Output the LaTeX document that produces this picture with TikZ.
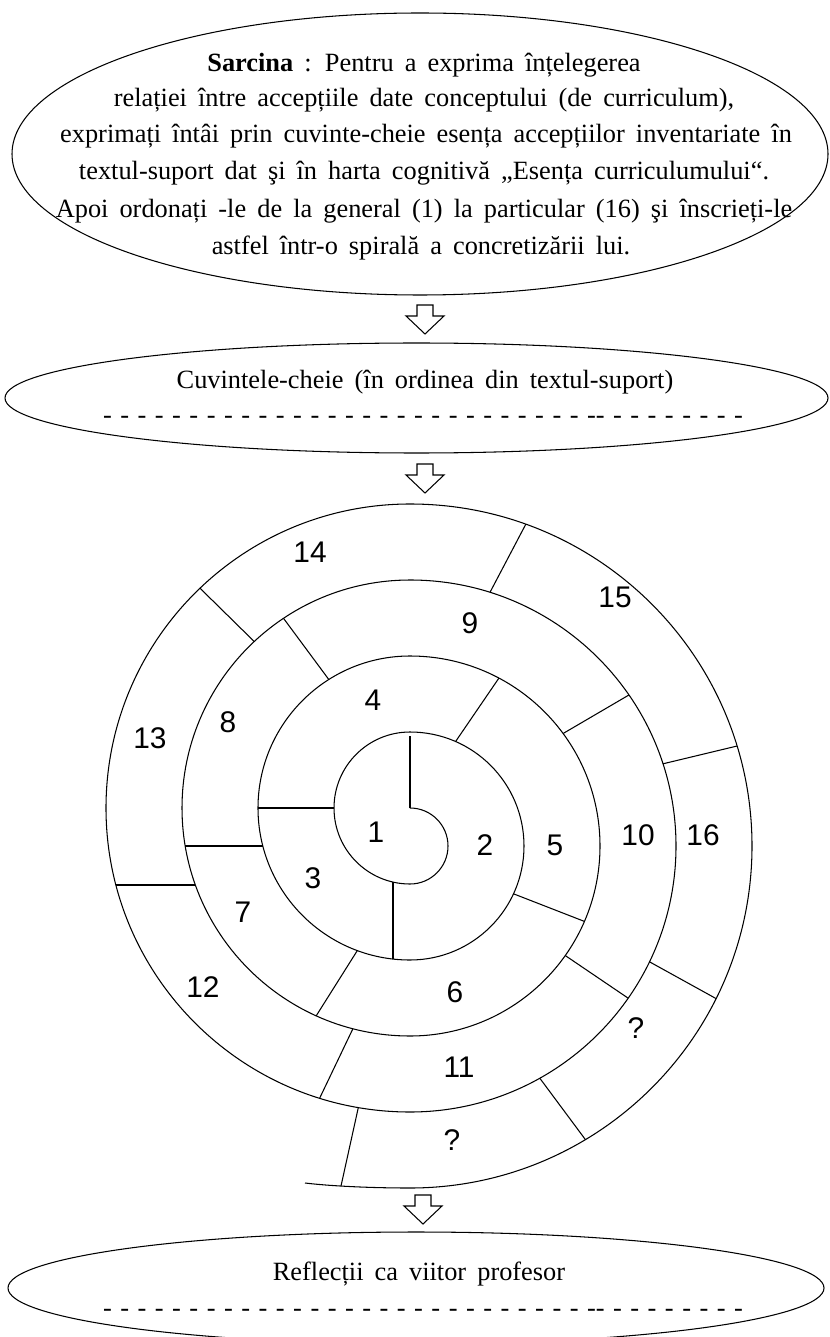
\documentclass[tikz,border=0pt]{standalone}
\usepackage{fontspec}
\setmainfont{Liberation Serif}
\newfontfamily\numfont{Liberation Sans}
\newcommand{\txtfont}{\fontsize{15}{21}\selectfont\spaceskip 0.42em plus 1fil\relax}
\tikzset{
  outline/.style = {line width=0.6pt},
  divider/.style = {line width=0.6pt},
  txt/.style = {anchor=base, inner sep=0pt, font=\txtfont},
  num/.style = {inner sep=0pt, font=\numfont\fontsize{17}{20}\selectfont},
  downarrow/.pic = {
    \draw[line width=0.6pt] (-8,0) -- (8,0) -- (8,11) -- (19,11) -- (0,29) -- (-19,11) -- (-8,11) -- cycle;
  },
}
\newcommand{\dashrow}{{\spaceskip 0pt plus 1fil\relax\makebox[12.8cm][s]{- - - - - - - - - - - - - - - - - - - - - - - - - - - - -{}- - - - - - - - -}}}

\begin{document}
\begin{tikzpicture}[x=0.02cm,y=-0.02cm]
	\useasboundingbox (0,0) rectangle (829,1337);
	
	\draw[outline] (420,154) ellipse [x radius=408, y radius=141];
	\node[txt] (t1) at (424,72) {\textbf{Sarcina} : Pentru a exprima înțelegerea};
	\node[txt] (t2) at (424,107) {relației între accepțiile date conceptului (de curriculum),};
	\node[txt] (t3) at (426,143) {exprimați întâi prin cuvinte-cheie esența accepțiilor inventariate în};
	\node[txt] (t4) at (424,180) {textul-suport dat şi în harta cognitivă „Esența curriculumului“.};
	\node[txt] (t5) at (424,218) {Apoi ordonați -le de la general (1) la particular (16) şi înscrieți-le};
	\node[txt] (t6) at (421,255) {astfel într-o spirală a concretizării lui.};
	
	\coordinate (a1) at (425,305);
	\pic at (a1) {downarrow};
	
	\draw[outline] (416.5,398) ellipse [x radius=411.5, y radius=55];
	\node[txt] (k1) at (425,389) {Cuvintele-cheie (în ordinea din textul-suport)};
	\node[txt] (k2) at (423,424) {\dashrow};
	
	\coordinate (a2) at (425,464);
	\pic at (a2) {downarrow};
	
	\draw[outline] (410,808)
		arc[start angle=-90, end angle=90, radius=38]
		arc[start angle=90, end angle=270, radius=76]
		arc[start angle=-90, end angle=90, radius=114]
		arc[start angle=90, end angle=270, radius=152]
		arc[start angle=-90, end angle=90, radius=190]
		arc[start angle=90, end angle=270, radius=228]
		arc[start angle=-90, end angle=90, radius=266]
		arc[start angle=90, end angle=270, radius=304]
		arc[start angle=-90, end angle=90, radius=342]
		.. controls (370,1188) and (330,1186) .. (305,1183);
	
	\draw[divider] (410,736) -- (410,808);
	\draw[divider] (455.6,741.5) -- (498.9,678.1);
	\draw[divider] (258,808) -- (334,808);
	\draw[divider] (393,882) -- (393,959);
	\draw[divider] (513.5,893.8) -- (584.4,921.4);
	\draw[divider] (254.2,641.5) -- (200,588.2);
	\draw[divider] (328.8,679.5) -- (283.5,618.3);
	\draw[divider] (185,846) -- (263,846);
	\draw[divider] (490,592.3) -- (525.8,524.2);
	\draw[divider] (563.1,733.5) -- (628.9,695);
	\draw[divider] (663,763.8) -- (737.1,746);
	\draw[divider] (116,885) -- (195,885);
	\draw[divider] (357.3,950.6) -- (316.2,1015.8);
	\draw[divider] (352.9,1028.7) -- (319.6,1098.3);
	\draw[divider] (358.3,1107.6) -- (341,1186);
	\draw[divider] (565.2,955.5) -- (628.2,998.2);
	\draw[divider] (649.5,961.8) -- (716.1,998.6);
	\draw[divider] (539.8,1078.2) -- (585.4,1139.6);
	
	\node[num] (n1) at (376,832) {1};
	\node[num] (n2) at (485,845) {2};
	\node[num] (n3) at (313,878) {3};
	\node[num] (n4) at (373,700) {4};
	\node[num] (n5) at (555,845) {5};
	\node[num] (n6) at (455,992) {6};
	\node[num] (n7) at (243,912) {7};
	\node[num] (n8) at (228,722) {8};
	\node[num] (n9) at (470,623) {9};
	\node[num] (n10) at (638,835) {10};
	\node[num] (n11) at (459,1067) {11};
	\node[num] (n12) at (203,987) {12};
	\node[num] (n13) at (150,738) {13};
	\node[num] (n14) at (310,552) {14};
	\node[num] (n15) at (615,597) {15};
	\node[num] (n16) at (703,835) {16};
	\node[num] (q1) at (636,1028) {?};
	\node[num] (q2) at (452,1140) {?};
	
	\coordinate (a3) at (423,1195);
	\pic at (a3) {downarrow};
	
	\draw[outline] (416,1288) ellipse [x radius=408, y radius=56];
	\node[txt] (r1) at (419,1280) {Reflecții ca viitor profesor};
	\node[txt] (r2) at (423,1316) {\dashrow};
\end{tikzpicture}
\end{document}
